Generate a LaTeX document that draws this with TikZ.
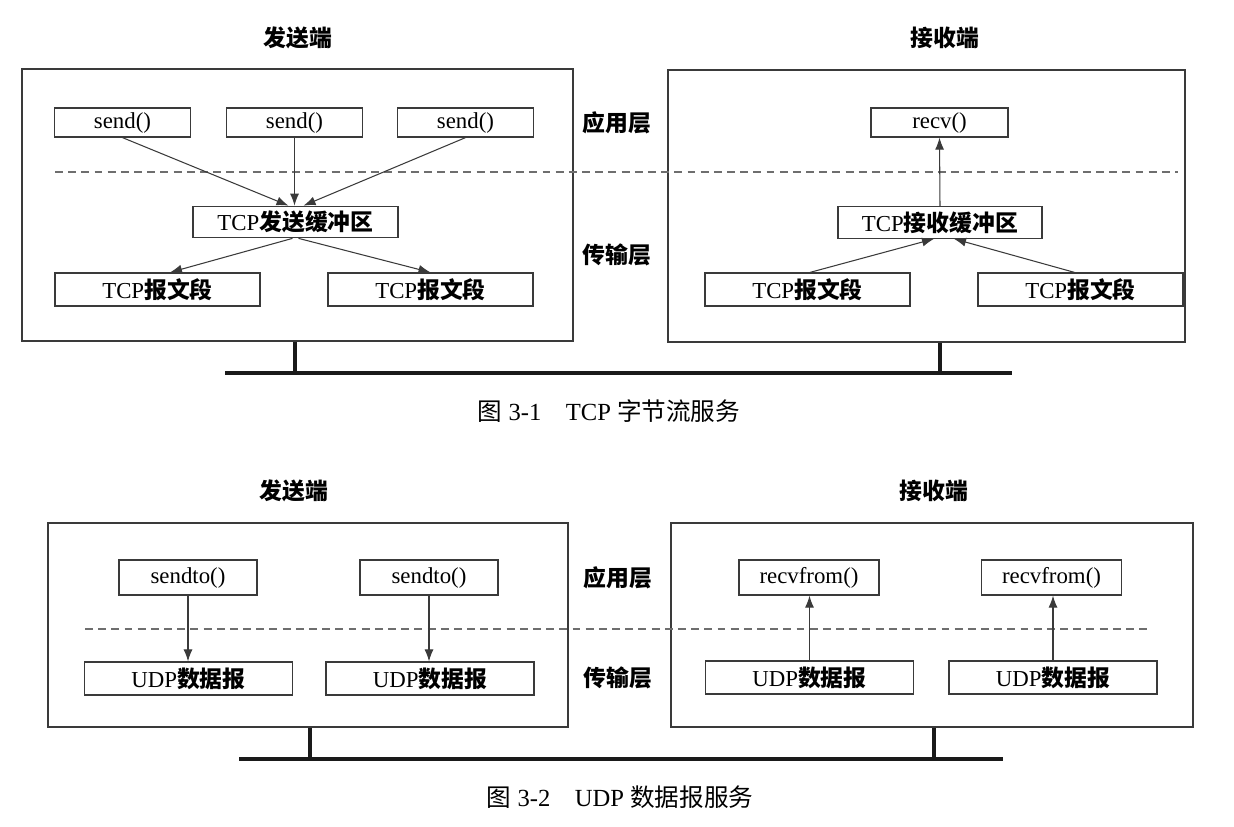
\documentclass[tikz,border=0pt]{standalone}
\usepackage{fontspec}
\setmainfont{Liberation Serif}
\newfontfamily\cjk{Noto Sans CJK SC}
\usepackage{tikz}
\usetikzlibrary{arrows.meta,positioning,calc}
\definecolor{NetBlack}{HTML}{1A1A1A}
\definecolor{BoxGray}{HTML}{3A3A3A}
\definecolor{DashGray}{HTML}{6E6E6E}
\newcommand{\zh}[1]{{\cjk\bfseries #1}}
\newcommand{\zhr}[1]{{\cjk #1}}

\begin{document}
\begin{tikzpicture}[
    x=0.02cm, y=-0.02cm,
    host/.style={draw=BoxGray, line width=0.7pt, inner sep=0pt},
    box/.style={draw=BoxGray, line width=0.7pt, inner sep=0pt, fill=white, font=\fontsize{13}{15}\selectfont},
    fn/.style={box, minimum width=2.72cm, minimum height=0.58cm},
    seg/.style={box, minimum width=4.1cm, minimum height=0.66cm},
    udp/.style={box, minimum width=4.16cm, minimum height=0.66cm},
    title/.style={font=\fontsize{13}{15}\selectfont},
    caption/.style={font=\fontsize{14}{16}\selectfont},
    arrow/.style={-{Latex[length=2.4mm,width=1.8mm]}, line width=0.6pt, draw=BoxGray},
    layer/.style={dash pattern=on 4.5pt off 3pt, line width=0.8pt, draw=DashGray},
    bus/.style={line width=2.5pt, draw=NetBlack},
    stem/.style={line width=1.8pt, draw=NetBlack}
  ]
    \useasboundingbox (0,0) rectangle (1234,826);

    \node[title] (tsndlbl) at (298,38) {\zh{发送端}};
    \node[title] (trcvlbl) at (945,38) {\zh{接收端}};
    \node[host, minimum width=11.02cm, minimum height=5.44cm] (tsnd) at (297.5,205) {};
    \node[host, minimum width=10.34cm, minimum height=5.44cm] (trcv) at (926.5,206) {};
    \node[title] (tapp) at (617,123) {\zh{应用层}};
    \node[title] (ttrans) at (617,255) {\zh{传输层}};
    \draw[layer] (55,172) -- (1178,172);

    \node[fn] (send1) at (122.5,122.5) {send()};
    \node[fn] (send2) at (294.5,122.5) {send()};
    \node[fn] (send3) at (465.5,122.5) {send()};
    \node[box, minimum width=4.1cm, minimum height=0.63cm] (sbuf) at (295.5,222) {TCP\zh{发送缓冲区}};
    \node[seg] (sseg1) at (157.5,289.5) {TCP\zh{报文段}};
    \node[seg] (sseg2) at (430.5,289.5) {TCP\zh{报文段}};

    \node[fn, minimum width=2.74cm] (recv) at (939.5,122.5) {recv()};
    \node[box, minimum width=4.08cm, minimum height=0.63cm] (rbuf) at (940,222.5) {TCP\zh{接收缓冲区}};
    \node[seg] (rseg1) at (807.5,289.5) {TCP\zh{报文段}};
    \node[seg] (rseg2) at (1080.5,289.5) {TCP\zh{报文段}};

    \draw[arrow] (send1.south) -- ([xshift=-0.14cm]sbuf.north);
    \draw[arrow] (send2.south) -- (send2.south |- sbuf.north);
    \draw[arrow] (send3.south) -- ([xshift=0.16cm]sbuf.north);
    \draw[arrow] ([xshift=-0.06cm]sbuf.south) -- ([xshift=0.25cm]sseg1.north);
    \draw[arrow] ([xshift=0.06cm]sbuf.south) -- (sseg2.north);
    \draw[arrow] (rbuf.north) -- (recv.south);
    \draw[arrow] ([xshift=0.05cm]rseg1.north) -- ([xshift=-0.12cm]rbuf.south);
    \draw[arrow] ([xshift=-0.12cm]rseg2.north) -- ([xshift=0.28cm]rbuf.south);

    \coordinate (ttapL) at (295,373);
    \coordinate (ttapR) at (940,373);
    \draw[bus] (225,373) -- (1012,373);
    \draw[stem] (tsnd.south -| ttapL) -- (ttapL);
    \draw[stem] (trcv.south -| ttapR) -- (ttapR);
    \node[caption] (tcap) at (609,411) {\zhr{图}~3-1\quad TCP~\zhr{字节流服务}};

    \node[title] (usndlbl) at (294,491) {\zh{发送端}};
    \node[title] (urcvlbl) at (934,491) {\zh{接收端}};
    \node[host, minimum width=10.4cm, minimum height=4.08cm] (usnd) at (308,625) {};
    \node[host, minimum width=10.44cm, minimum height=4.08cm] (urcv) at (932,625) {};
    \node[title] (uapp) at (618,578) {\zh{应用层}};
    \node[title] (utrans) at (618,678) {\zh{传输层}};
    \draw[layer] (85,629) -- (1152,629);

    \node[fn, minimum width=2.76cm, minimum height=0.7cm] (sendto1) at (188,577.5) {sendto()};
    \node[fn, minimum width=2.76cm, minimum height=0.7cm] (sendto2) at (429,577.5) {sendto()};
    \node[udp] (usdg1) at (188.5,678.5) {UDP\zh{数据报}};
    \node[udp] (usdg2) at (430,678.5) {UDP\zh{数据报}};

    \node[fn, minimum width=2.8cm, minimum height=0.7cm] (rfrom1) at (809,577.5) {recvfrom()};
    \node[fn, minimum width=2.8cm, minimum height=0.7cm] (rfrom2) at (1051.5,577.5) {recvfrom()};
    \node[udp] (urdg1) at (809.5,677.5) {UDP\zh{数据报}};
    \node[udp] (urdg2) at (1053,677.5) {UDP\zh{数据报}};

    \draw[arrow] (sendto1.south) -- (sendto1.south |- usdg1.north);
    \draw[arrow] (sendto2.south) -- (sendto2.south |- usdg2.north);
    \draw[arrow] (urdg1.north) -- (urdg1.north |- rfrom1.south);
    \draw[arrow] (urdg2.north) -- (urdg2.north |- rfrom2.south);

    \coordinate (utapL) at (310,759);
    \coordinate (utapR) at (934,759);
    \draw[bus] (239,759) -- (1003,759);
    \draw[stem] (usnd.south -| utapL) -- (utapL);
    \draw[stem] (urcv.south -| utapR) -- (utapR);
    \node[caption] (ucap) at (620,797) {\zhr{图}~3-2\quad UDP~\zhr{数据报服务}};
  \end{tikzpicture}
\end{document}
